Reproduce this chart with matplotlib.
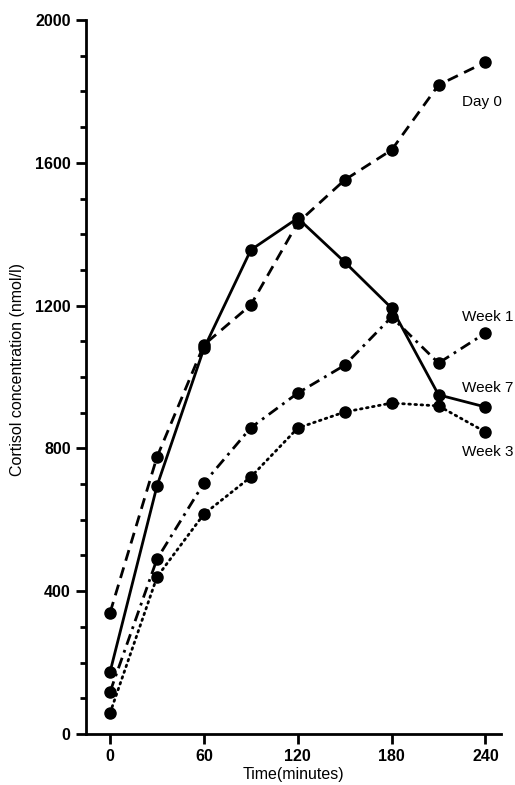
import matplotlib
matplotlib.use("Agg")
import matplotlib.pyplot as plt
from matplotlib.ticker import MultipleLocator

plt.rcParams['font.family'] = ['Liberation Sans', 'DejaVu Sans']

time = [0, 30, 60, 90, 120, 150, 180, 210, 240]
day0 = [340, 776, 1090, 1202, 1432, 1552, 1636, 1818, 1882]
week7 = [174, 695, 1080, 1356, 1445, 1322, 1193, 950, 916]
week1 = [118, 490, 703, 858, 955, 1033, 1168, 1039, 1123]
week3 = [59, 440, 616, 720, 857, 902, 927, 919, 846]

series_names = ["Day 0", "Week 1", "Week 7", "Week 3"]
x_ticks = [0, 60, 120, 180, 240]
y_ticks = [0, 400, 800, 1200, 1600, 2000]

fig = plt.figure(figsize=(5.15, 7.85), dpi=100)
ax = fig.add_axes([0.167, 0.065, 0.806, 0.9095])

lw = 2.0
ms = 8
ax.plot(time, day0, color='black', lw=lw, linestyle=(0, (4, 2.5)), marker='o', ms=ms)
ax.plot(time, week7, color='black', lw=lw, linestyle='-', marker='o', ms=ms)
ax.plot(time, week1, color='black', lw=lw, linestyle=(0, (4, 2, 1, 2)), marker='o', ms=ms)
ax.plot(time, week3, color='black', lw=lw, linestyle=(0, (0.6, 1.6)), dash_capstyle='round',
        marker='o', ms=ms)

ax.set_xlim(-15.4, 250)
ax.set_ylim(0, 2000)
ax.set_xticks(x_ticks)
ax.set_yticks(y_ticks)
ax.yaxis.set_minor_locator(MultipleLocator(100))
ax.tick_params(axis='both', which='major', direction='out', length=7, width=2,
               labelsize=11.5, pad=4)
ax.tick_params(axis='y', which='minor', direction='out', length=4.5, width=2)
for lab in ax.get_xticklabels() + ax.get_yticklabels():
    lab.set_fontweight('bold')

for s in ['top', 'right']:
    ax.spines[s].set_visible(False)
for s in ['left', 'bottom']:
    ax.spines[s].set_linewidth(2)

fig.text(293 / 515, 1 - 775 / 785, "Time(minutes)", fontsize=11.5, ha='center', va='center')
fig.text(18 / 515, 1 - 370 / 785, "Cortisol concentration (nmol/l)", fontsize=11.5,
         ha='center', va='center', rotation=90)

lab_pos = {"Day 0": 1770, "Week 1": 1168, "Week 7": 968, "Week 3": 790}
for name in series_names:
    ax.text(225, lab_pos[name], name, fontsize=11, ha='left', va='center')

fig.savefig("out.png", dpi=100)
